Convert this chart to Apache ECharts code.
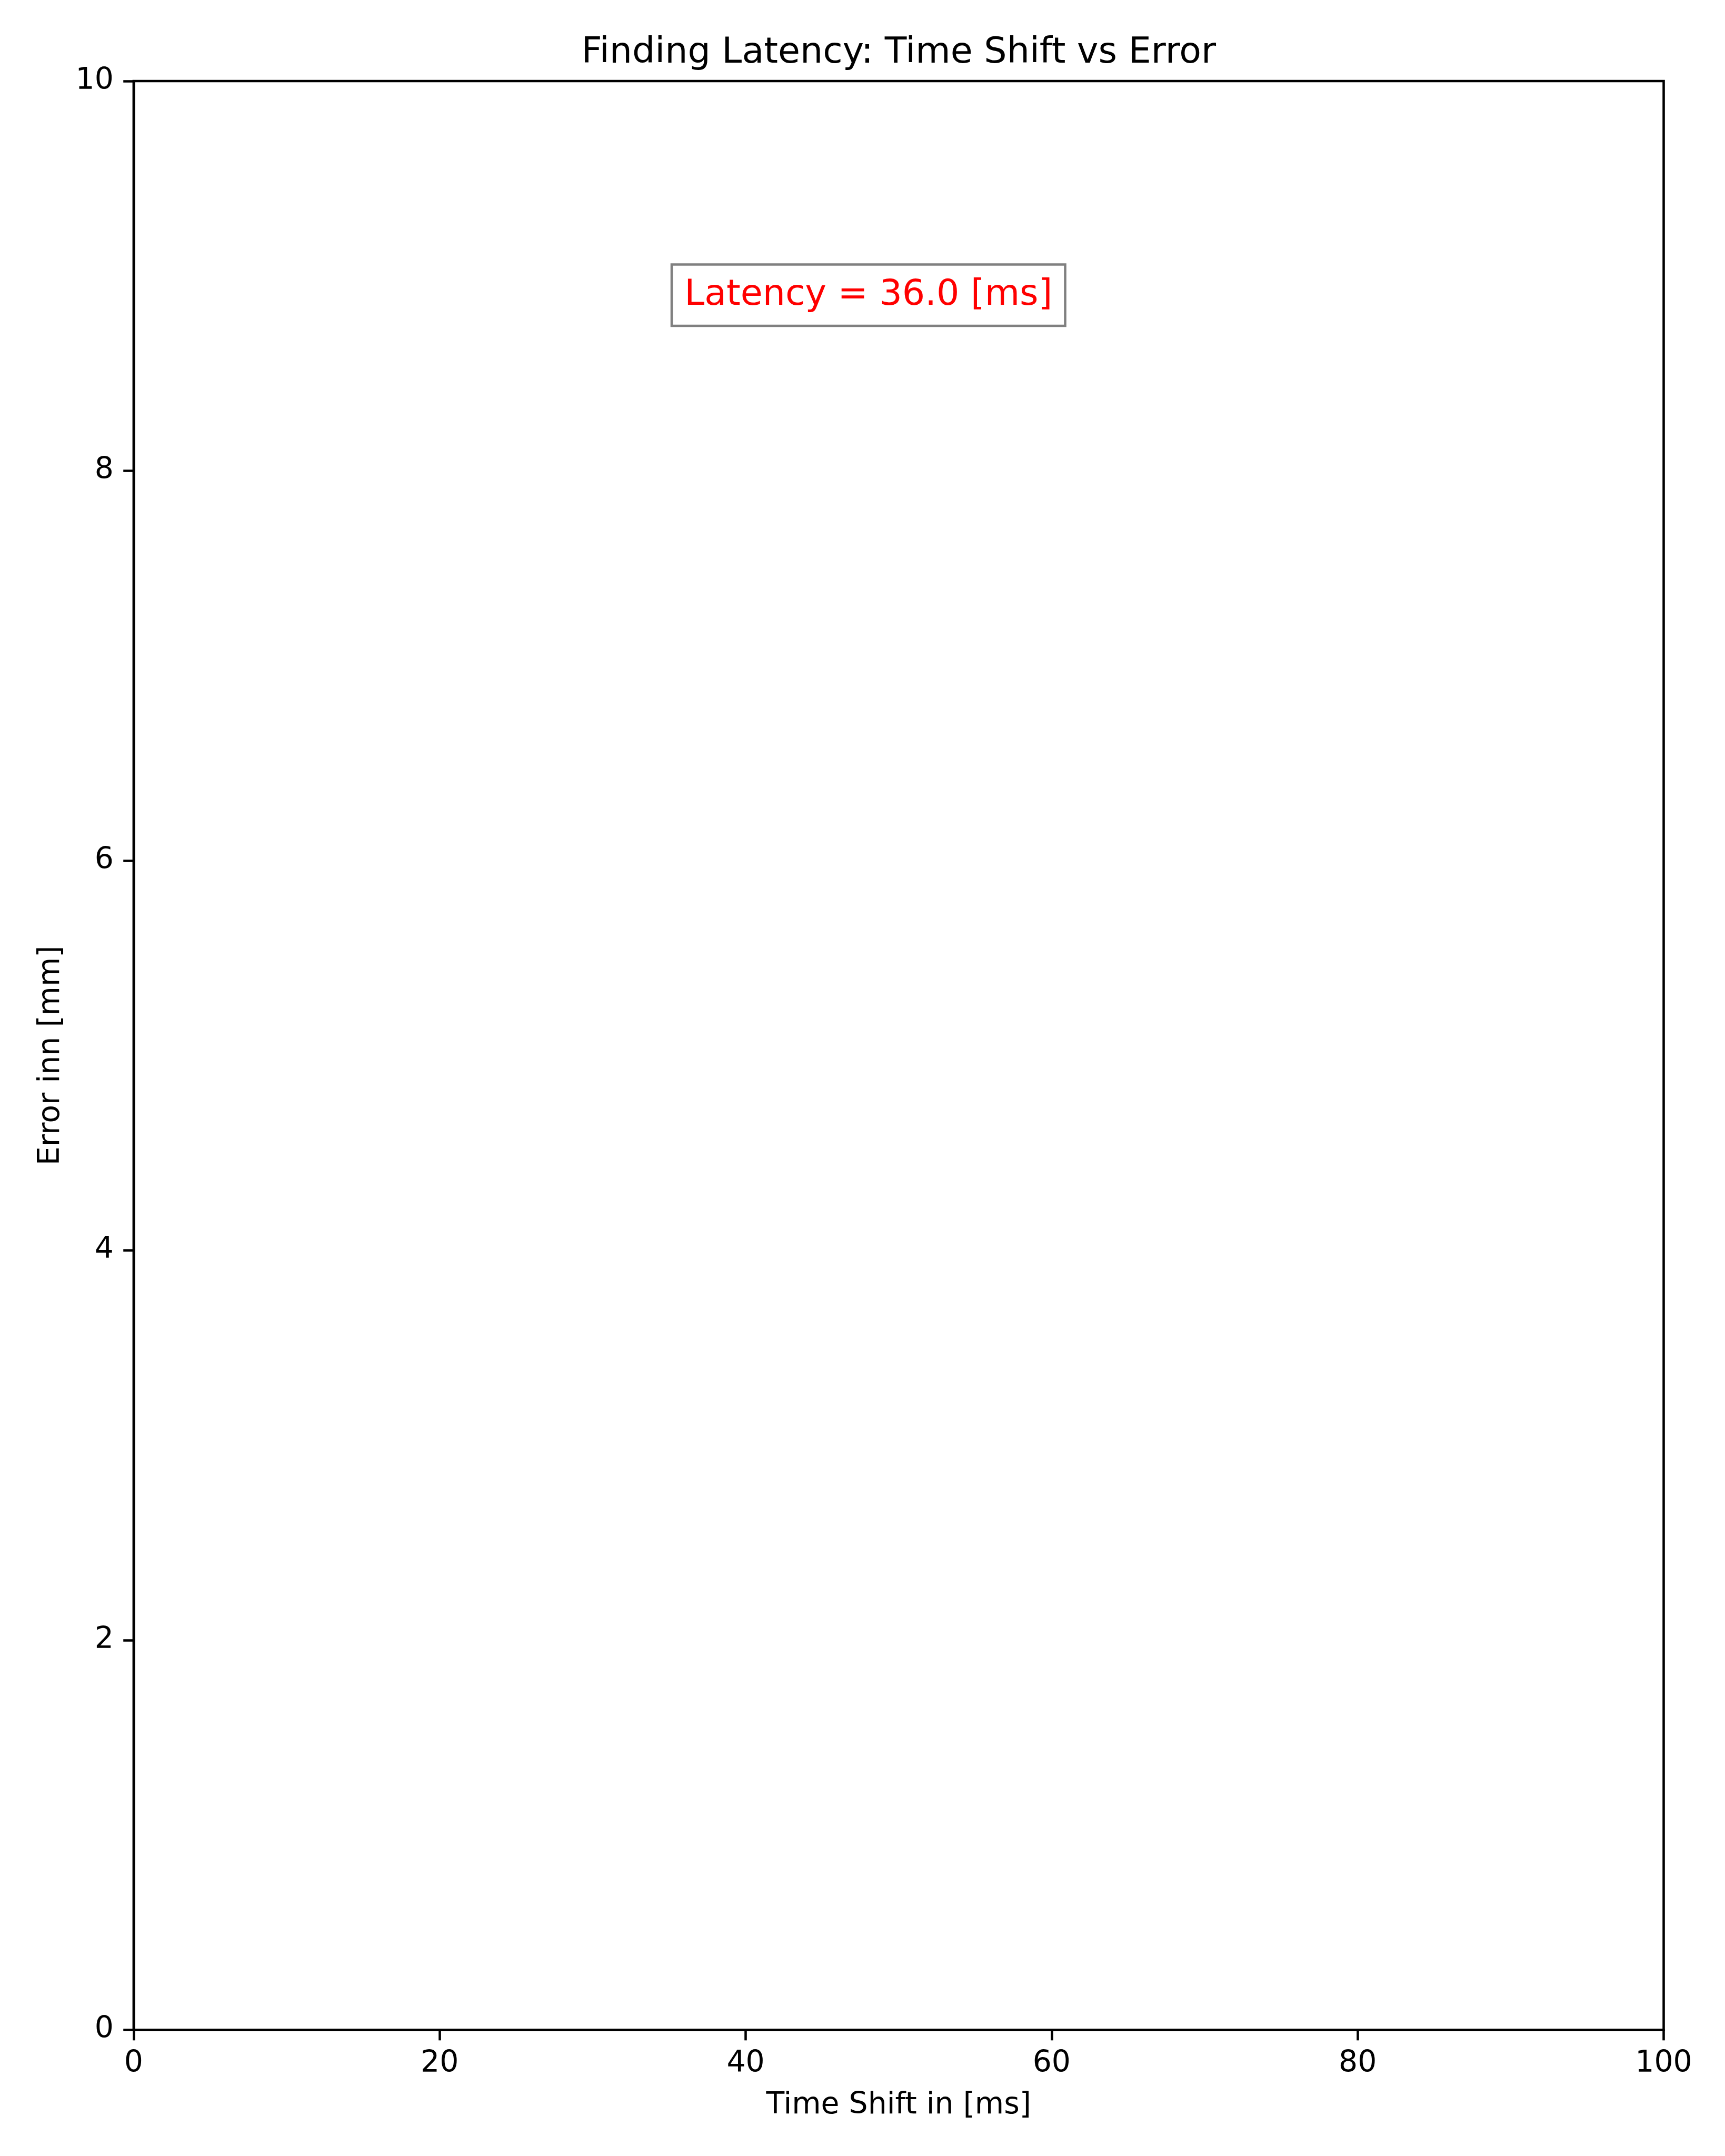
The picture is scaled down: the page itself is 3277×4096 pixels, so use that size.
<!DOCTYPE html>
<html>
<head>
<meta charset="utf-8">
<script src="https://cdn.jsdelivr.net/npm/echarts@6/dist/echarts.min.js"></script>
<style>
html,body{margin:0;padding:0;background:#fff;}
#chart{width:3277px;height:4096px;}
</style>
</head>
<body>
<div id="chart"></div>
<script>
// ---- data ----
const titleText = "Finding Latency: Time Shift vs Error";
const xAxisName = "Time Shift in [ms]";
const yAxisName = "Error inn [mm]";
const xRange = [0, 100];
const xTickStep = 20;
const yRange = [0, 10];
const yTickStep = 2;
const latencyMs = 36.0;
const annotationY = 8.85;
const shiftValues = [];   // no visible curve in the reference
const errorValues = [];

const S = 0.819;
const FONT = "DejaVu Sans";
const fs10 = 69.4 * S;
const fs12 = 83.3 * S;
const lw = 5.56 * S;

const grid = {left: 310 * S, top: 188 * S, right: 3277 - 3859 * S, bottom: 4096 - 4709 * S};

const chart = echarts.init(document.getElementById('chart'), null, {renderer: 'canvas'});
chart.setOption({
  backgroundColor: '#ffffff',
  animation: false,
  title: {
    text: titleText,
    left: (grid.left + (3277 - grid.right)) / 2,
    textAlign: 'center',
    top: 67,
    padding: 0,
    textStyle: {fontFamily: FONT, fontSize: fs12, fontWeight: 'normal', color: '#000'}
  },
  grid: {
    left: grid.left, top: grid.top, right: grid.right, bottom: grid.bottom,
    show: true, borderColor: '#000', borderWidth: lw, backgroundColor: 'transparent'
  },
  xAxis: {
    type: 'value', min: xRange[0], max: xRange[1], interval: xTickStep,
    name: xAxisName, nameLocation: 'middle', nameGap: 115,
    nameTextStyle: {fontFamily: FONT, fontSize: fs10, color: '#000'},
    axisLine: {show: true, onZero: false, lineStyle: {color: '#000', width: lw}},
    axisTick: {show: true, inside: false, length: 24 * S, lineStyle: {color: '#000', width: lw}},
    axisLabel: {show: true, margin: 36, fontFamily: FONT, fontSize: fs10, color: '#000'},
    splitLine: {show: false}
  },
  yAxis: {
    type: 'value', min: yRange[0], max: yRange[1], interval: yTickStep,
    name: yAxisName, nameLocation: 'middle', nameGap: 128,
    nameTextStyle: {fontFamily: FONT, fontSize: fs10, color: '#000'},
    axisLine: {show: true, onZero: false, lineStyle: {color: '#000', width: lw}},
    axisTick: {show: true, inside: false, length: 24 * S, lineStyle: {color: '#000', width: lw}},
    axisLabel: {show: true, margin: 38, fontFamily: FONT, fontSize: fs10, color: '#000'},
    splitLine: {show: false}
  },
  series: [
    {
      type: 'line',
      data: shiftValues.map((x, i) => [x, errorValues[i]]),
      showSymbol: false,
      silent: true
    },
    {
      type: 'scatter',
      data: [[latencyMs, annotationY]],
      symbolSize: 0,
      silent: true,
      itemStyle: {opacity: 1},
      label: {
        show: true,
        formatter: 'Latency = ' + latencyMs.toFixed(1) + ' [ms]',
        position: [-22, -75],
        align: 'left',
        verticalAlign: 'top',
        fontFamily: FONT,
        fontSize: fs12,
        color: '#ff0000',
        opacity: 1,
        lineHeight: 72,
        backgroundColor: '#ffffff',
        borderColor: '#808080',
        borderWidth: 5.56 * S,
        padding: [20, 22, 20, 22]
      }
    }
  ]
});
</script>
</body>
</html>
